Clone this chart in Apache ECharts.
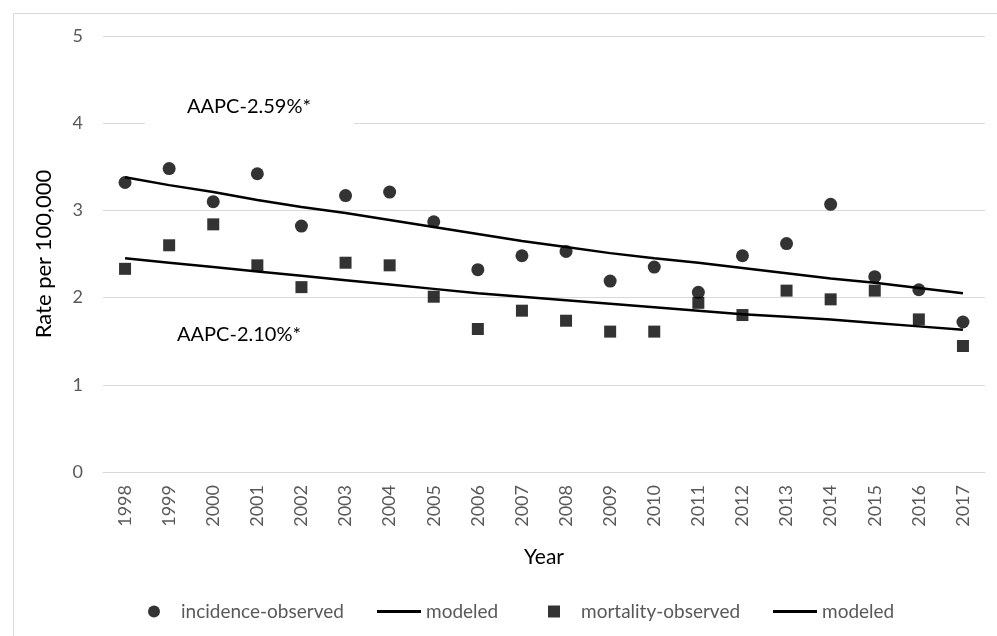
<!DOCTYPE html>
<html>
<head>
<meta charset="utf-8">
<script src="https://cdn.jsdelivr.net/npm/echarts@6/dist/echarts.min.js"></script>
<style>
html,body{margin:0;padding:0;background:#fff;}
#chart{width:997px;height:636px;}
</style>
</head>
<body>
<div id="chart"></div>
<script>
var years = ['1998','1999','2000','2001','2002','2003','2004','2005','2006','2007','2008','2009','2010','2011','2012','2013','2014','2015','2016','2017'];
var incidenceObserved = [3.32,3.48,3.10,3.42,2.82,3.17,3.21,2.87,2.32,2.48,2.53,2.19,2.35,2.06,2.48,2.62,3.07,2.24,2.09,1.72];
var incidenceModeled = [3.38,3.29,3.21,3.12,3.04,2.97,2.89,2.81,2.73,2.65,2.58,2.51,2.45,2.40,2.34,2.28,2.22,2.17,2.11,2.05];
var mortalityObserved = [2.33,2.60,2.84,2.37,2.12,2.40,2.37,2.01,1.64,1.85,1.735,1.61,1.61,1.94,1.80,2.08,1.98,2.08,1.75,1.445];
var mortalityModeled = [2.45,2.40,2.35,2.30,2.25,2.20,2.15,2.10,2.05,2.01,1.97,1.93,1.89,1.85,1.81,1.78,1.75,1.71,1.67,1.63];
var yTicks = [0,1,2,3,4,5];
var annotIncidence = 'AAPC-2.59%*';
var annotMortality = 'AAPC-2.10%*';

var FONT = 'Lato';
var chart = echarts.init(document.getElementById('chart'));

function legendFor(name, left, icon, w, h, gap) {
  return {
    data: [{name: name, icon: icon}],
    left: left, top: 597,
    itemWidth: w, itemHeight: h,
    selectedMode: false,
    formatter: function (n) { return n.indexOf('modeled') === 0 ? 'modeled' : n; },
    textStyle: {color: '#595959', fontSize: 19, fontFamily: FONT, padding: [0,0,0,gap]}
  };
}

chart.setOption({
  animation: false,
  backgroundColor: '#fff',
  grid: {left: 103, right: 12, top: 36, bottom: 164, containLabel: false},
  xAxis: {
    type: 'category', data: years, boundaryGap: true,
    name: 'Year', nameLocation: 'middle', nameGap: 75,
    nameTextStyle: {color: '#000', fontSize: 21, fontFamily: FONT},
    axisLine: {show: true, lineStyle: {color: '#d9d9d9', width: 1}},
    axisTick: {show: false},
    axisLabel: {rotate: 90, margin: 13, color: '#595959', fontSize: 18, fontFamily: FONT}
  },
  yAxis: {
    type: 'value', min: yTicks[0], max: yTicks[yTicks.length-1], interval: 1,
    name: 'Rate per 100,000', nameLocation: 'middle', nameGap: 48, nameRotate: 90,
    nameTextStyle: {color: '#000', fontSize: 22, fontFamily: FONT},
    axisLine: {show: false}, axisTick: {show: false},
    axisLabel: {margin: 20, color: '#595959', fontSize: 18, fontFamily: FONT},
    splitLine: {lineStyle: {color: '#d9d9d9', width: 1}}
  },
  legend: [
    legendFor('incidence-observed', 143, 'circle', 12, 12, 16),
    legendFor('modeled-incidence', 372, 'rect', 44, 3, 0),
    legendFor('mortality-observed', 543, 'rect', 12, 12, 16),
    legendFor('modeled-mortality', 768, 'rect', 44, 3, 0)
  ],
  graphic: [
    {type: 'rect', left: 11, top: 11, shape: {width: 1000, height: 640}, style: {fill: 'none', stroke: '#d9d9d9', lineWidth: 1}, silent: true, z: -1},
    {type: 'rect', left: 145, top: 94, shape: {width: 209, height: 34}, style: {fill: '#fff'}, z: 10},
    {type: 'text', left: 187, top: 97, style: {text: annotIncidence, fill: '#000', font: '20px ' + FONT}, z: 11},
    {type: 'text', left: 177, top: 325, style: {text: annotMortality, fill: '#000', font: '20px ' + FONT}, z: 11}
  ],
  series: [
    {name: 'incidence-observed', type: 'scatter', data: incidenceObserved, symbol: 'circle', symbolSize: 13, itemStyle: {color: '#000'}, z: 3},
    {name: 'modeled-incidence', type: 'line', data: incidenceModeled, symbol: 'none', lineStyle: {color: '#000', width: 2.5}, itemStyle: {color: '#000'}, z: 2},
    {name: 'mortality-observed', type: 'scatter', data: mortalityObserved, symbol: 'rect', symbolSize: 12, itemStyle: {color: '#000'}, z: 3},
    {name: 'modeled-mortality', type: 'line', data: mortalityModeled, symbol: 'none', lineStyle: {color: '#000', width: 2.5}, itemStyle: {color: '#000'}, z: 2}
  ]
});
</script>
</body>
</html>
